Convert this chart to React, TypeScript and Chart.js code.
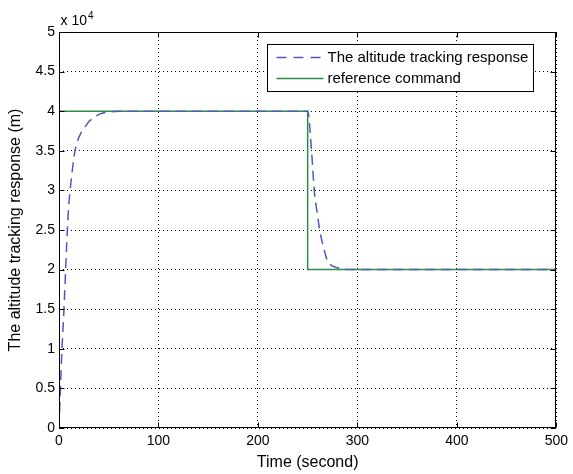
import { useEffect, useRef } from "react";
import { Chart, registerables } from "chart.js";

Chart.register(...registerables);

// ---- data (altitude in metres, time in seconds) ----
const responseTime = [
  0, 1, 2, 3, 4, 5, 6, 7, 8, 9, 10, 12, 14, 16, 18, 20, 23, 26, 30, 35, 40, 45, 50, 60, 80, 120, 160, 200,
  250, 251, 252, 253, 254, 255, 256, 257, 258, 260, 262, 264, 266, 268, 270, 274, 278, 282, 290, 300, 350,
  400, 450, 500,
];
const responseAltitude = [
  0, 3500, 7000, 10000, 12500, 15000, 18000, 21000, 24000, 26500, 28500, 31000, 33200, 35000, 36000, 36700,
  37500, 38000, 38700, 39200, 39600, 39800, 39900, 40000, 40000, 40000, 40000, 40000,
  40000, 39500, 38200, 36500, 34800, 33000, 31000, 29500, 28500, 26800, 25000, 23800, 22800, 21800, 21000,
  20500, 20300, 20150, 20000, 20000, 20000, 20000, 20000, 20000,
];
const commandTime = [0, 250, 250, 500];
const commandAltitude = [40000, 40000, 20000, 20000];

const xTicks = [0, 100, 200, 300, 400, 500];
const yTicks = [0, 5000, 10000, 15000, 20000, 25000, 30000, 35000, 40000, 45000, 50000];
const yScaleFactor = 10000;
const exponentBase = "x 10";
const exponentPower = "4";

const seriesLabels = ["The altitude tracking response", "reference command"];
const xTitle = "Time (second)";
const yTitle = "The altitude tracking response (m)";

const FONT = "'Liberation Sans', Arial, Helvetica, sans-serif";
const BLUE = "#4a5cbc";
const GREEN = "#2e8b4a";

const decorPlugin = {
  id: "matlabDecor",
  afterDraw(chart: any) {
    const { ctx, chartArea } = chart;
    const xs = chart.scales.x;
    const ys = chart.scales.y;
    const L = Math.round(chartArea.left) + 0.5;
    const R = Math.round(chartArea.right) - 0.5;
    const T = Math.round(chartArea.top) + 0.5;
    const B = Math.round(chartArea.bottom) - 0.5;
    ctx.save();
    ctx.strokeStyle = "#000";
    ctx.lineWidth = 1;
    ctx.setLineDash([]);
    ctx.strokeRect(L, T, R - L, B - T);
    const tl = 5;
    ctx.beginPath();
    for (const v of xTicks) {
      const px = Math.round(xs.getPixelForValue(v)) + 0.5;
      ctx.moveTo(px, B);
      ctx.lineTo(px, B - tl);
      ctx.moveTo(px, T);
      ctx.lineTo(px, T + tl);
    }
    for (const v of yTicks) {
      const py = Math.round(ys.getPixelForValue(v)) + 0.5;
      ctx.moveTo(L, py);
      ctx.lineTo(L + tl, py);
      ctx.moveTo(R, py);
      ctx.lineTo(R - tl, py);
    }
    ctx.stroke();

    // exponent label
    ctx.fillStyle = "#000";
    ctx.textBaseline = "alphabetic";
    ctx.textAlign = "left";
    ctx.font = `14px ${FONT}`;
    const ex = L + 1;
    const ey = T - 8;
    ctx.fillText(exponentBase, ex, ey);
    const w = ctx.measureText(exponentBase).width;
    ctx.font = `10px ${FONT}`;
    ctx.fillText(exponentPower, ex + w + 1, ey - 6);

    // legend
    ctx.font = `15px ${FONT}`;
    const textW = Math.max(...seriesLabels.map((s) => ctx.measureText(s).width));
    const padL = 9;
    const lineLen = 47;
    const gap = 4;
    const padR = 6;
    const boxW = padL + lineLen + gap + textW + padR;
    const boxR = Math.round(chartArea.right) - 23 + 0.5;
    const boxL = Math.round(boxR - boxW) + 0.5;
    const boxT = Math.round(chartArea.top) + 12 + 0.5;
    const boxH = 47;
    ctx.fillStyle = "#fff";
    ctx.fillRect(boxL, boxT, boxR - boxL, boxH);
    ctx.strokeStyle = "#000";
    ctx.lineWidth = 1;
    ctx.strokeRect(boxL, boxT, boxR - boxL, boxH);
    const rows = [boxT + 13, boxT + 34];
    const styles = [
      { color: BLUE, dash: [10, 7] },
      { color: GREEN, dash: [] as number[] },
    ];
    seriesLabels.forEach((label, i) => {
      const y = rows[i];
      ctx.strokeStyle = styles[i].color;
      ctx.lineWidth = 1.5;
      ctx.setLineDash(styles[i].dash);
      ctx.beginPath();
      ctx.moveTo(boxL + padL, y);
      ctx.lineTo(boxL + padL + lineLen, y);
      ctx.stroke();
      ctx.setLineDash([]);
      ctx.fillStyle = "#000";
      ctx.textBaseline = "middle";
      ctx.fillText(label, boxL + padL + lineLen + gap, y);
    });
    ctx.restore();
  },
};

export default function App() {
  const ref = useRef<HTMLCanvasElement | null>(null);
  useEffect(() => {
    if (!ref.current) return;
    const chart = new Chart(ref.current, {
      type: "line",
      data: {
        datasets: [
          {
            label: seriesLabels[0],
            data: responseTime.map((t, i) => ({ x: t, y: responseAltitude[i] })),
            borderColor: BLUE,
            borderWidth: 1.5,
            borderDash: [10, 6],
            pointRadius: 0,
            tension: 0,
            fill: false,
          },
          {
            label: seriesLabels[1],
            data: commandTime.map((t, i) => ({ x: t, y: commandAltitude[i] })),
            borderColor: GREEN,
            borderWidth: 1.5,
            pointRadius: 0,
            tension: 0,
            fill: false,
          },
        ],
      },
      options: {
        animation: false,
        responsive: false,
        devicePixelRatio: 1,
        layout: { padding: { top: 32, right: 13, left: 0, bottom: 0 } },
        plugins: { legend: { display: false }, tooltip: { enabled: false } },
        scales: {
          x: {
            type: "linear",
            min: 0,
            max: 500,
            afterBuildTicks: (s: any) => {
              s.ticks = xTicks.map((v) => ({ value: v }));
            },
            afterFit: (s: any) => {
              s.height = 46;
            },
            grid: { color: "#000", lineWidth: 1, drawTicks: false },
            border: { display: false, dash: [1, 3] },
            ticks: {
              color: "#000",
              font: { family: FONT, size: 14 },
              padding: 5,
              maxRotation: 0,
              autoSkip: false,
            },
            title: {
              display: true,
              text: xTitle,
              color: "#000",
              font: { family: FONT, size: 16 },
              padding: { top: 0, bottom: 2 },
            },
          },
          y: {
            type: "linear",
            min: 0,
            max: 50000,
            afterBuildTicks: (s: any) => {
              s.ticks = yTicks.map((v) => ({ value: v }));
            },
            afterFit: (s: any) => {
              s.width = 59;
            },
            grid: { color: "#000", lineWidth: 1, drawTicks: false },
            border: { display: false, dash: [1, 3] },
            ticks: {
              color: "#000",
              font: { family: FONT, size: 14 },
              padding: 4,
              autoSkip: false,
              callback: (v: any) => String(Number(v) / yScaleFactor),
            },
            title: {
              display: true,
              text: yTitle,
              color: "#000",
              font: { family: FONT, size: 16 },
              padding: { top: 6, bottom: 0 },
            },
          },
        },
      },
      plugins: [decorPlugin],
    });
    return () => chart.destroy();
  }, []);
  return (
    <canvas
      ref={ref}
      width={573}
      height={474}
      style={{ position: "absolute", left: 0, top: 0, width: 573, height: 474 }}
    />
  );
}
